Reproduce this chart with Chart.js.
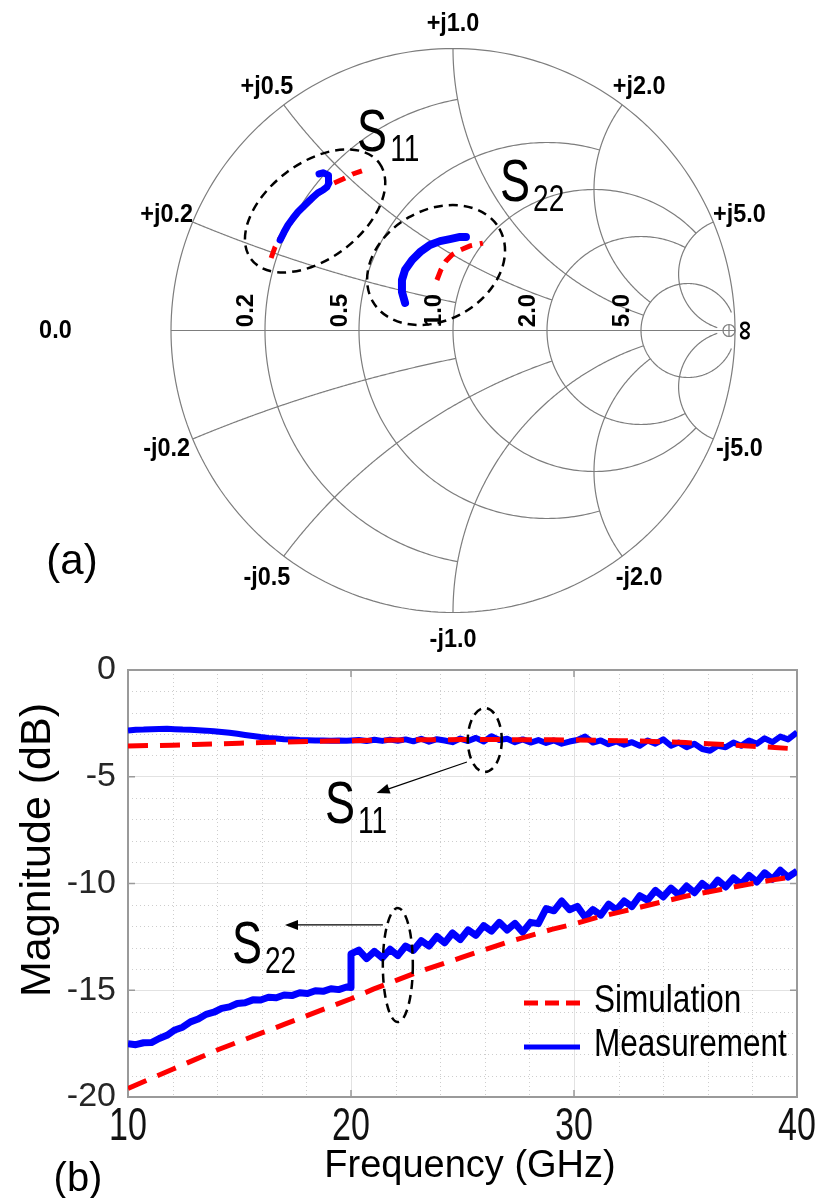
<!DOCTYPE html>
<html>
<head>
<meta charset="utf-8">
<title>S-parameters</title>
<script src="https://cdn.jsdelivr.net/npm/chart.js@4.4.1/dist/chart.umd.min.js"></script>
<style>
  html, body { margin: 0; padding: 0; background: #fff; }
  #wrap { position: relative; width: 816px; height: 1198px; overflow: hidden; }
  #smith { position: absolute; left: 0; top: 0; }
  #mag { position: absolute; left: 0; top: 640px; }
</style>
</head>
<body>
<div id="wrap">
  <canvas id="smith" width="816" height="660"></canvas>
  <canvas id="mag" width="816" height="558"></canvas>
</div>
<script>
const BLUE = '#0000ff'
const RED = '#ff0000'
const GRID = '#7d7d7d'
const SANS = "'Liberation Sans', Arial, sans-serif"

// ---------- (a) Smith chart, reflection coefficient re / im ----------
const s11MeasRe = [-0.613, -0.599, -0.585, -0.567, -0.550, -0.532, -0.514, -0.496, -0.479, -0.461, -0.447, -0.440, -0.440, -0.443, -0.461, -0.475]
const s11MeasIm = [0.321, 0.349, 0.374, 0.399, 0.420, 0.438, 0.456, 0.473, 0.488, 0.498, 0.509, 0.523, 0.537, 0.551, 0.559, 0.555]
const s11SimRe = [-0.645, -0.631, -0.613, -0.585, -0.550, -0.514, -0.479, -0.450, -0.422, -0.390, -0.355, -0.323]
const s11SimIm = [0.257, 0.296, 0.328, 0.371, 0.417, 0.452, 0.484, 0.505, 0.523, 0.537, 0.555, 0.566]
const s22MeasRe = [-0.170, -0.181, -0.181, -0.170, -0.145, -0.117, -0.082, -0.046, -0.011, 0.025, 0.046]
const s22MeasIm = [0.098, 0.137, 0.179, 0.215, 0.250, 0.278, 0.303, 0.317, 0.324, 0.332, 0.332]
const s22SimRe = [-0.057, -0.043, -0.025, -0.004, 0.025, 0.060, 0.106]
const s22SimIm = [0.179, 0.215, 0.246, 0.268, 0.285, 0.300, 0.310]

// grid circles/arcs and the value where each one stops
const gridValues = [0.2, 0.5, 1.0, 2.0, 5.0]
const gridStops = [1.0, 2.0, 5.0, 5.0, 30]

// ---------- (b) magnitude vs frequency ----------
const simFreq = [10, 11, 12, 13, 14, 15, 16, 17, 18, 19, 20, 21, 22, 23, 24, 25, 26, 27, 28, 29, 30, 31, 32, 33, 34, 35, 36, 37, 38, 39, 40]
const s11Sim = [-3.56, -3.54, -3.52, -3.49, -3.46, -3.43, -3.40, -3.37, -3.35, -3.33, -3.31, -3.29, -3.28, -3.27, -3.27, -3.26, -3.26, -3.26, -3.27, -3.27, -3.28, -3.29, -3.31, -3.33, -3.36, -3.40, -3.45, -3.51, -3.57, -3.63, -3.70]
const s22Sim = [-19.6, -19.15, -18.7, -18.25, -17.8, -17.4, -17.0, -16.6, -16.2, -15.8, -15.4, -14.95, -14.55, -14.15, -13.8, -13.45, -13.1, -12.75, -12.45, -12.15, -11.9, -11.6, -11.35, -11.1, -10.85, -10.6, -10.4, -10.2, -10.0, -9.82, -9.65]

const measFreq = [
  10.00, 10.35, 10.70, 11.05, 11.40, 11.75, 12.10, 12.45, 12.80, 13.15,
  13.50, 13.85, 14.20, 14.55, 14.90, 15.25, 15.60, 15.95, 16.30, 16.65,
  17.00, 17.35, 17.70, 18.05, 18.40, 18.75, 19.10, 19.45, 19.80, 20.00,
  20.00, 20.35, 20.70, 21.05, 21.40, 21.75, 22.10, 22.45, 22.80, 23.15,
  23.50, 23.85, 24.20, 24.55, 24.90, 25.25, 25.60, 25.95, 26.30, 26.65,
  27.00, 27.35, 27.70, 28.05, 28.40, 28.75, 29.10, 29.45, 29.80, 30.15,
  30.50, 30.85, 31.20, 31.55, 31.90, 32.25, 32.60, 32.95, 33.30, 33.65,
  34.00, 34.35, 34.70, 35.05, 35.40, 35.75, 36.10, 36.45, 36.80, 37.15,
  37.50, 37.85, 38.20, 38.55, 38.90, 39.25, 39.60, 40.00]
const s11Meas = [
  -2.84, -2.80, -2.79, -2.77, -2.76, -2.75, -2.77, -2.79, -2.80, -2.82,
  -2.84, -2.87, -2.90, -2.94, -2.99, -3.04, -3.09, -3.14, -3.18, -3.21,
  -3.24, -3.26, -3.28, -3.29, -3.30, -3.30, -3.31, -3.30, -3.31, -3.30,
  -3.30, -3.28, -3.33, -3.27, -3.32, -3.26, -3.31, -3.25, -3.34, -3.22,
  -3.36, -3.24, -3.30, -3.38, -3.21, -3.33, -3.18, -3.35, -3.10, -3.28,
  -3.22, -3.38, -3.25, -3.40, -3.28, -3.42, -3.30, -3.45, -3.35, -3.28,
  -3.12, -3.40, -3.30, -3.48, -3.35, -3.50, -3.38, -3.55, -3.30, -3.45,
  -3.25, -3.55, -3.40, -3.62, -3.45, -3.70, -3.78, -3.55, -3.62, -3.40,
  -3.55, -3.30, -3.45, -3.20, -3.38, -3.12, -3.25, -2.92]
const s22Meas = [
  -17.50, -17.55, -17.46, -17.45, -17.26, -17.11, -16.86, -16.73, -16.48, -16.35,
  -16.13, -16.03, -15.85, -15.78, -15.62, -15.59, -15.45, -15.46, -15.33, -15.35,
  -15.22, -15.25, -15.12, -15.15, -15.02, -15.05, -14.93, -14.97, -14.85, -14.87,
  -13.30, -13.12, -13.52, -13.18, -13.48, -13.08, -13.38, -12.93, -13.13, -12.68,
  -12.93, -12.48, -12.78, -12.32, -12.63, -12.17, -12.43, -11.97, -12.23, -11.82,
  -12.18, -11.87, -12.28, -11.82, -11.88, -11.17, -11.28, -10.82, -11.23, -11.07,
  -11.58, -11.22, -11.48, -10.97, -11.23, -10.82, -11.08, -10.57, -10.78, -10.32,
  -10.63, -10.22, -10.53, -10.12, -10.43, -10.00, -10.28, -9.84, -10.16, -9.74,
  -10.03, -9.62, -9.93, -9.50, -9.80, -9.38, -9.70, -9.42]

const xTicks = [10, 20, 30, 40]
const yTicks = [0, -5, -10, -15, -20]

function pairs(xs, ys) {
  return xs.map((v, i) => ({ x: v, y: ys[i] }))
}

// normalised impedance r + jx -> reflection coefficient
function gamma(r, x) {
  const d = (r + 1) * (r + 1) + x * x
  return [(r * r + x * x - 1) / d, 2 * x / d]
}

// text squeezed horizontally by k, returns drawn width
function squeezed(ctx, txt, x, y, font, k) {
  ctx.save()
  ctx.font = font
  const w = ctx.measureText(txt).width * k
  ctx.translate(x, y)
  ctx.scale(k, 1)
  ctx.fillText(txt, 0, 0)
  ctx.restore()
  return w
}

function dashedEllipse(ctx, cx, cy, rx, ry, rot) {
  ctx.save()
  ctx.strokeStyle = '#000'
  ctx.lineWidth = 2.5
  ctx.setLineDash([9, 6])
  ctx.beginPath()
  ctx.ellipse(cx, cy, rx, ry, rot, 0, 2 * Math.PI)
  ctx.stroke()
  ctx.restore()
}

function subLabel(ctx, x, y, main, sub) {
  ctx.save()
  ctx.fillStyle = '#000'
  ctx.textAlign = 'left'
  ctx.textBaseline = 'alphabetic'
  const w = squeezed(ctx, main, x, y, '60px ' + SANS, 0.75)
  squeezed(ctx, sub, x + w + 3, y + 10, '36px ' + SANS, 0.78)
  ctx.restore()
}

function arrow(ctx, x0, y0, x1, y1) {
  const ang = Math.atan2(y1 - y0, x1 - x0)
  const L = 13, W = 5
  ctx.save()
  ctx.strokeStyle = '#000'
  ctx.fillStyle = '#000'
  ctx.lineWidth = 1.2
  ctx.beginPath()
  ctx.moveTo(x0, y0)
  ctx.lineTo(x1 - L * 0.8 * Math.cos(ang), y1 - L * 0.8 * Math.sin(ang))
  ctx.stroke()
  ctx.beginPath()
  ctx.moveTo(x1, y1)
  ctx.lineTo(x1 - L * Math.cos(ang) + W * Math.sin(ang), y1 - L * Math.sin(ang) - W * Math.cos(ang))
  ctx.lineTo(x1 - L * Math.cos(ang) - W * Math.sin(ang), y1 - L * Math.sin(ang) + W * Math.cos(ang))
  ctx.closePath()
  ctx.fill()
  ctx.restore()
}

// ---------- Smith chart ----------
const CX = 453, CY = 330.5, R = 282

const smithGrid = {
  id: 'smithGrid',
  beforeDatasetsDraw(chart) {
    const ctx = chart.ctx
    const X = v => chart.scales.x.getPixelForValue(v)
    const Y = v => chart.scales.y.getPixelForValue(v)
    function arc(cx, cy, rad, a0, a1) {
      ctx.beginPath()
      for (let k = 0; k <= 240; k++) {
        const a = a0 + (a1 - a0) * k / 240
        const px = X(cx + rad * Math.cos(a)), py = Y(cy + rad * Math.sin(a))
        if (k === 0) ctx.moveTo(px, py)
        else ctx.lineTo(px, py)
      }
      ctx.stroke()
    }
    ctx.save()
    ctx.strokeStyle = GRID
    ctx.lineWidth = 1.2
    arc(0, 0, 1, 0, 2 * Math.PI)
    ctx.beginPath()
    ctx.moveTo(X(-1), Y(0))
    ctx.lineTo(X(1), Y(0))
    ctx.stroke()

    gridValues.forEach((v, i) => {
      const stop = gridStops[i]
      // resistance circle, cut at reactance +-stop
      const c = v / (v + 1)
      const e = gamma(v, stop)
      const a0 = Math.atan2(e[1], e[0] - c)
      arc(c, 0, 1 / (v + 1), a0, 2 * Math.PI - a0)
      // reactance arcs, cut at resistance = stop
      ;[v, -v].forEach(xv => {
        const cy = 1 / xv
        const s = gamma(0, xv), t = gamma(stop, xv)
        const b0 = Math.atan2(s[1] - cy, s[0] - 1)
        let d = Math.atan2(t[1] - cy, t[0] - 1) - b0
        if (d > Math.PI) d -= 2 * Math.PI
        if (d < -Math.PI) d += 2 * Math.PI
        arc(1, cy, 1 / Math.abs(xv), b0, b0 + d)
      })
    })

    // small marker at the open-circuit point
    const mx = X(1) - 6, my = Y(0)
    ctx.beginPath()
    ctx.arc(mx, my, 6, 0, 2 * Math.PI)
    ctx.moveTo(mx, my - 6)
    ctx.lineTo(mx, my + 6)
    ctx.stroke()

    // labels
    ctx.fillStyle = '#000'
    ctx.textAlign = 'left'
    ctx.textBaseline = 'middle'
    const bold = 'bold 26px ' + SANS
    gridValues.forEach(v => {
      ;[v, -v].forEach(xv => {
        const p = gamma(0, xv)
        const txt = (xv > 0 ? '+j' : '-j') + v.toFixed(1)
        ctx.font = bold
        const w = ctx.measureText(txt).width * 0.9
        squeezed(ctx, txt, X(p[0] * 1.1) - w / 2, Y(p[1] * 1.1) + (xv > 0 ? 4 : -1), bold, 0.9)
      })
    })
    ctx.font = bold
    squeezed(ctx, '0.0', X(-1.41) - ctx.measureText('0.0').width * 0.45, Y(0), bold, 0.9)

    ctx.textAlign = 'center'
    ctx.font = 'bold 24px ' + SANS
    gridValues.forEach(v => {
      ctx.save()
      ctx.translate(X(gamma(v, 0)[0]) - 19, Y(0) - 20)
      ctx.rotate(-Math.PI / 2)
      ctx.fillText(v.toFixed(1), 0, 0)
      ctx.restore()
    })
    ctx.save()
    ctx.translate(X(1.035), Y(0))
    ctx.rotate(-Math.PI / 2)
    ctx.font = 'bold 28px ' + SANS
    ctx.fillText('\u221e', 0, 0)
    ctx.restore()

    ctx.font = '42px ' + SANS
    ctx.fillText('(a)', 72, 562)
    ctx.restore()
  },
  afterDatasetsDraw(chart) {
    const ctx = chart.ctx
    const X = v => chart.scales.x.getPixelForValue(v)
    const Y = v => chart.scales.y.getPixelForValue(v)
    const k = X(1) - X(0)
    dashedEllipse(ctx, X(-0.489), Y(0.424), 0.284 * k, 0.170 * k, -37 * Math.PI / 180)
    dashedEllipse(ctx, X(-0.060), Y(0.232), 0.259 * k, 0.195 * k, -30 * Math.PI / 180)
    subLabel(ctx, X(-0.340), Y(0.6365), 'S', '11')
    subLabel(ctx, X(0.167), Y(0.459), 'S', '22')
  }
}

new Chart(document.getElementById('smith'), {
  type: 'scatter',
  data: {
    datasets: [
      { label: 'S11 measurement', data: pairs(s11MeasRe, s11MeasIm), showLine: true, borderColor: BLUE, borderWidth: 7, pointRadius: 0, borderJoinStyle: 'round', borderCapStyle: 'round' },
      { label: 'S22 measurement', data: pairs(s22MeasRe, s22MeasIm), showLine: true, borderColor: BLUE, borderWidth: 8, pointRadius: 0, borderJoinStyle: 'round', borderCapStyle: 'round' },
      { label: 'S11 simulation', data: pairs(s11SimRe, s11SimIm), showLine: true, borderColor: RED, borderWidth: 5, borderDash: [12, 8], pointRadius: 0 },
      { label: 'S22 simulation', data: pairs(s22SimRe, s22SimIm), showLine: true, borderColor: RED, borderWidth: 5, borderDash: [12, 8], pointRadius: 0 }
    ]
  },
  options: {
    responsive: false,
    animation: false,
    devicePixelRatio: 1,
    layout: { padding: 0 },
    plugins: { legend: { display: false }, tooltip: { enabled: false } },
    scales: {
      x: { type: 'linear', display: false, min: -CX / R, max: (816 - CX) / R },
      y: { type: 'linear', display: false, min: -(660 - CY) / R, max: CY / R }
    }
  },
  plugins: [smithGrid]
})

// ---------- magnitude plot ----------
const magDecor = {
  id: 'magDecor',
  beforeDatasetsDraw(chart) {
    const ctx = chart.ctx, a = chart.chartArea
    const sx = chart.scales.x, sy = chart.scales.y
    ctx.save()
    // dotted minor grid
    ctx.strokeStyle = '#cdcdcd'
    ctx.lineWidth = 1
    ctx.setLineDash([1, 3])
    for (let f = 12; f < 40; f += 2) {
      if (f % 10 === 0) continue
      const px = Math.round(sx.getPixelForValue(f)) + 0.5
      ctx.beginPath(); ctx.moveTo(px, a.top); ctx.lineTo(px, a.bottom); ctx.stroke()
    }
    for (let d = -19; d < 0; d++) {
      if (d % 5 === 0) continue
      const py = Math.round(sy.getPixelForValue(d)) + 0.5
      ctx.beginPath(); ctx.moveTo(a.left, py); ctx.lineTo(a.right, py); ctx.stroke()
    }
    ctx.setLineDash([])
    // axes box with inward ticks
    ctx.strokeStyle = '#9a9a9a'
    ctx.lineWidth = 2
    ctx.strokeRect(a.left, a.top, a.right - a.left, a.bottom - a.top)
    ctx.lineWidth = 1.5
    xTicks.forEach(f => {
      const px = sx.getPixelForValue(f)
      ctx.beginPath()
      ctx.moveTo(px, a.top); ctx.lineTo(px, a.top + 7)
      ctx.moveTo(px, a.bottom); ctx.lineTo(px, a.bottom - 7)
      ctx.stroke()
    })
    yTicks.forEach(d => {
      const py = sy.getPixelForValue(d)
      ctx.beginPath()
      ctx.moveTo(a.left, py); ctx.lineTo(a.left + 7, py)
      ctx.moveTo(a.right, py); ctx.lineTo(a.right - 7, py)
      ctx.stroke()
    })
    ctx.restore()
  },
  afterDatasetsDraw(chart) {
    const ctx = chart.ctx, a = chart.chartArea
    const X = v => chart.scales.x.getPixelForValue(v)
    const Y = v => chart.scales.y.getPixelForValue(v)

    // S11 / S22 call-outs
    dashedEllipse(ctx, X(26.0), Y(-3.28), 17, 32, 0)
    arrow(ctx, X(25.2), Y(-4.31), X(21.15), Y(-5.76))
    subLabel(ctx, X(18.83), Y(-7.17), 'S', '11')
    dashedEllipse(ctx, X(22.1), Y(-13.82), 15, 57, 0)
    arrow(ctx, X(21.43), Y(-11.94), X(17.04), Y(-11.94))
    subLabel(ctx, X(14.66), Y(-13.72), 'S', '22')

    ctx.save()
    ctx.fillStyle = '#111'
    ctx.textBaseline = 'alphabetic'
    // frequency tick labels, narrow so the last one fits
    const tickFont = '46px ' + SANS
    xTicks.forEach(f => {
      const txt = String(f)
      ctx.font = tickFont
      const w = ctx.measureText(txt).width * 0.74
      squeezed(ctx, txt, X(f) - w / 2, a.bottom + 43, tickFont, 0.74)
    })

    // legend
    const lx = a.left + 396, ly = a.top + 333
    ctx.lineWidth = 5
    ctx.strokeStyle = RED
    ctx.setLineDash([14, 7])
    ctx.beginPath(); ctx.moveTo(lx, ly); ctx.lineTo(lx + 56, ly); ctx.stroke()
    ctx.setLineDash([])
    ctx.strokeStyle = BLUE
    ctx.beginPath(); ctx.moveTo(lx, ly + 44); ctx.lineTo(lx + 56, ly + 44); ctx.stroke()
    ctx.fillStyle = '#000'
    ctx.textAlign = 'left'
    ctx.textBaseline = 'middle'
    squeezed(ctx, 'Simulation', lx + 70, ly - 1, '38px ' + SANS, 0.83)
    squeezed(ctx, 'Measurement', lx + 70, ly + 43, '38px ' + SANS, 0.83)

    // axis titles
    ctx.textAlign = 'center'
    ctx.font = '38px ' + SANS
    ctx.fillText('Frequency (GHz)', 470, 527)
    ctx.font = '40px ' + SANS
    ctx.fillText('(b)', 78, 540)
    ctx.translate(38, 210)
    ctx.rotate(-Math.PI / 2)
    ctx.font = '43px ' + SANS
    ctx.fillText('Magnitude (dB)', 0, 0)
    ctx.restore()
  }
}

new Chart(document.getElementById('mag'), {
  type: 'scatter',
  data: {
    datasets: [
      { label: 'Simulation', data: pairs(simFreq, s11Sim), showLine: true, borderColor: RED, borderWidth: 5, borderDash: [20, 12], pointRadius: 0 },
      { label: 'Simulation', data: pairs(simFreq, s22Sim), showLine: true, borderColor: RED, borderWidth: 5, borderDash: [20, 12], pointRadius: 0 },
      { label: 'Measurement', data: pairs(measFreq, s11Meas), showLine: true, borderColor: BLUE, borderWidth: 6, pointRadius: 0, borderJoinStyle: 'round' },
      { label: 'Measurement', data: pairs(measFreq, s22Meas), showLine: true, borderColor: BLUE, borderWidth: 7, pointRadius: 0, borderJoinStyle: 'round' }
    ]
  },
  options: {
    responsive: false,
    animation: false,
    devicePixelRatio: 1,
    layout: { padding: { top: 30, right: 19, left: 0, bottom: 0 } },
    plugins: { legend: { display: false }, tooltip: { enabled: false } },
    scales: {
      x: {
        type: 'linear', min: 10, max: 40,
        afterFit: s => { s.height = 101; s.paddingLeft = 0; s.paddingRight = 0 },
        afterBuildTicks: s => { s.ticks = xTicks.map(v => ({ value: v })) },
        border: { display: false },
        grid: { color: '#e2e2e2', drawTicks: false },
        ticks: { display: false }
      },
      y: {
        type: 'linear', min: -20, max: 0,
        afterFit: s => { s.width = 128; s.paddingTop = 0; s.paddingBottom = 0 },
        afterBuildTicks: s => { s.ticks = yTicks.map(v => ({ value: v })) },
        border: { display: false },
        grid: { color: '#e2e2e2', drawTicks: false },
        ticks: { color: '#262626', padding: 12, font: { family: SANS, size: 34 } }
      }
    }
  },
  plugins: [magDecor]
})
</script>
</body>
</html>
